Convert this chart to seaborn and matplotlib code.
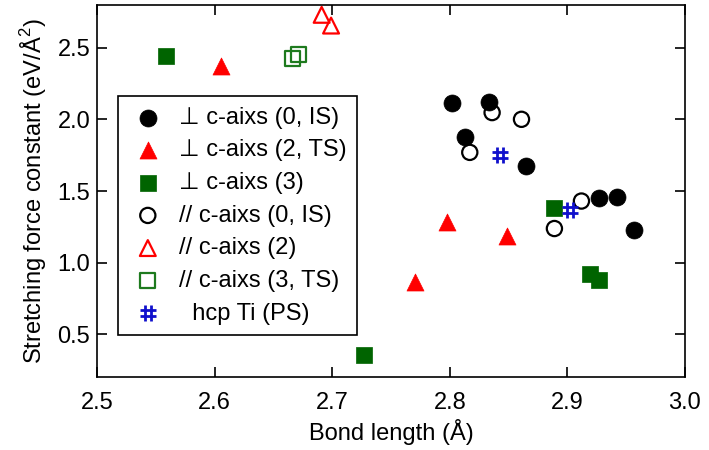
import matplotlib
matplotlib.use("Agg")
import matplotlib.pyplot as plt
from matplotlib.path import Path
import seaborn as sns
import pandas as pd

# Data
perp0_x = [2.802, 2.833, 2.813, 2.865, 2.927, 2.942, 2.957]
perp0_y = [2.117, 2.122, 1.874, 1.673, 1.453, 1.458, 1.226]
perp2_x = [2.605, 2.770, 2.798, 2.849]
perp2_y = [2.376, 0.862, 1.284, 1.187]
perp3_x = [2.559, 2.727, 2.889, 2.919, 2.927]
perp3_y = [2.446, 0.356, 1.381, 0.918, 0.879]
par0_x = [2.836, 2.861, 2.817, 2.912, 2.889]
par0_y = [2.048, 2.001, 1.770, 1.430, 1.238]
par2_x = [2.691, 2.699]
par2_y = [2.731, 2.656]
par3_x = [2.671, 2.666]
par3_y = [2.455, 2.428]
hcp_x = [2.843, 2.902]
hcp_y = [1.754, 1.365]

labels = ["\u22a5 c-aixs (0, IS)", "\u22a5 c-aixs (2, TS)", "\u22a5 c-aixs (3)",
          "// c-aixs (0, IS)", "// c-aixs (2)", "// c-aixs (3, TS)", "  hcp Ti (PS)"]

sns.set_theme(style="ticks")
plt.rcParams['font.family'] = ['Liberation Sans', 'DejaVu Sans']
plt.rcParams['mathtext.fontset'] = 'custom'
plt.rcParams['mathtext.rm'] = 'Liberation Sans'
plt.rcParams['text.color'] = 'black'
plt.rcParams['axes.labelcolor'] = 'black'
plt.rcParams['xtick.color'] = 'black'
plt.rcParams['ytick.color'] = 'black'

hash_path = Path(
    [(-0.35, -1), (-0.35, 1), (0.35, -1), (0.35, 1),
     (-1, -0.35), (1, -0.35), (-1, 0.35), (1, 0.35)],
    [Path.MOVETO, Path.LINETO, Path.MOVETO, Path.LINETO,
     Path.MOVETO, Path.LINETO, Path.MOVETO, Path.LINETO])

fig = plt.figure(figsize=(7.09, 4.5), dpi=100)
ax = fig.add_axes([0.137, 0.162, 0.829, 0.827])

green = "#006400"
series = [
    (perp0_x, perp0_y, dict(marker="o", s=150, color="black", edgecolor="black", linewidth=0.5)),
    (perp2_x, perp2_y, dict(marker="^", s=150, color="red", edgecolor="red", linewidth=0.5)),
    (perp3_x, perp3_y, dict(marker="s", s=130, color=green, edgecolor=green, linewidth=0.5)),
    (par0_x, par0_y, dict(marker="o", s=120, facecolor="none", edgecolor="black", linewidth=1.6)),
    (par2_x, par2_y, dict(marker="^", s=130, facecolor="none", edgecolor="red", linewidth=1.6)),
    (par3_x, par3_y, dict(marker="s", s=120, facecolor="none", edgecolor="#1e7a1e", linewidth=1.6)),
    (hcp_x, hcp_y, dict(marker=hash_path, s=140, color="#1010cc", edgecolor="#1010cc", linewidth=2.0)),
]
for (xs, ys, kw), lab in zip(series, labels):
    df = pd.DataFrame({"x": xs, "y": ys})
    sns.scatterplot(data=df, x="x", y="y", ax=ax, label=lab, **kw)

ax.set_xlim(2.5, 3.0)
ax.set_ylim(0.2, 2.8)
ax.set_xticks([2.5, 2.6, 2.7, 2.8, 2.9, 3.0])
ax.set_yticks([0.5, 1.0, 1.5, 2.0, 2.5])
ax.tick_params(direction="in", length=7, width=1.2, top=True, right=True, labelsize=17)
ax.tick_params(axis="x", pad=11)
ax.tick_params(axis="y", pad=5)
for sp in ax.spines.values():
    sp.set_linewidth(1.2)
    sp.set_color("black")
ax.set_xlabel("Bond length (\u00c5)", fontsize=17, labelpad=3)
ax.set_ylabel("Stretching force constant (eV/\u00c5$^2$)", fontsize=17, labelpad=6)

leg = ax.legend(loc="upper left", bbox_to_anchor=(0.036, 0.755), fontsize=17,
                frameon=True, fancybox=False, edgecolor="black", framealpha=1,
                handletextpad=0.5, borderpad=0.45, labelspacing=0.45, handlelength=1.6,
                borderaxespad=0)
leg.get_frame().set_linewidth(1.2)

fig.savefig("out.png", dpi=100)
